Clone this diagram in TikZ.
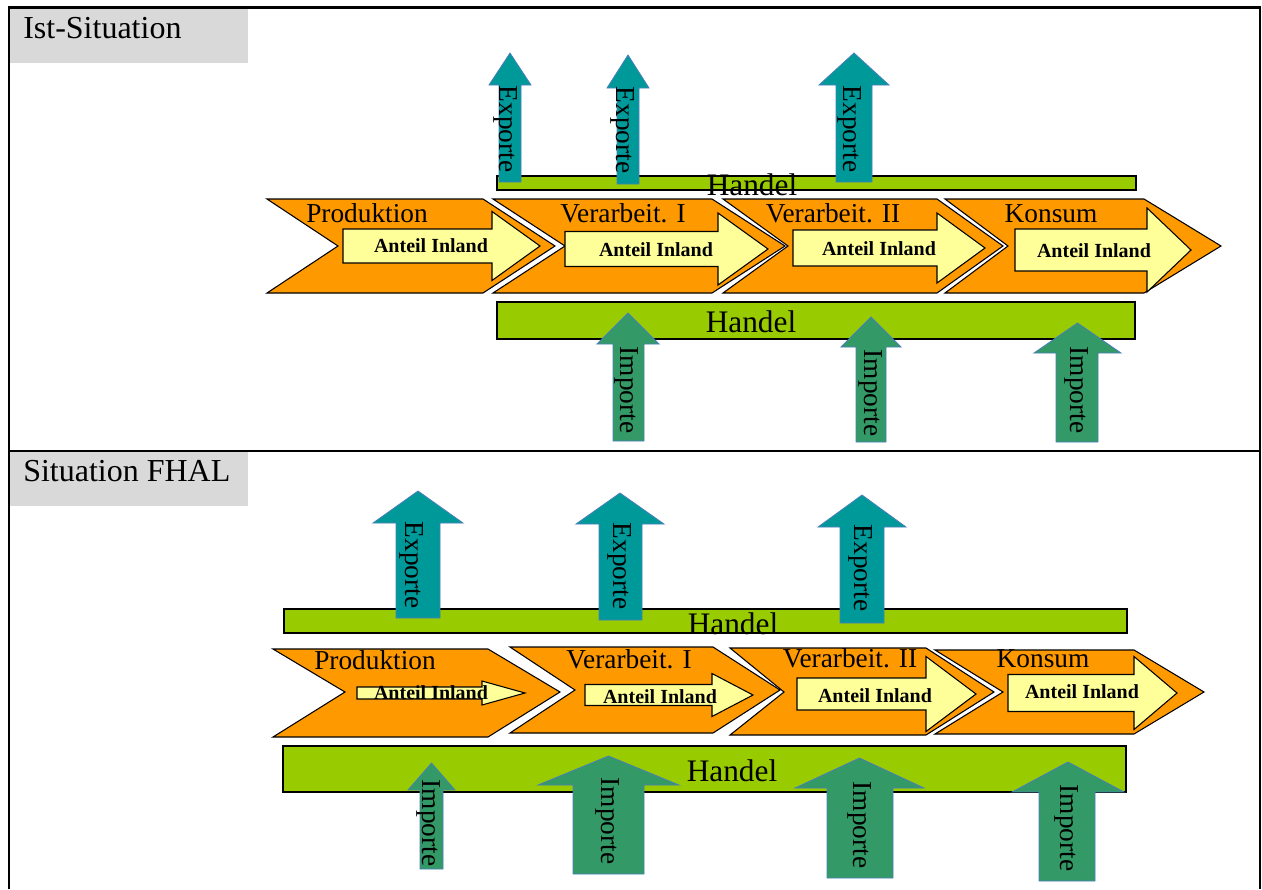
\documentclass[tikz,border=0pt]{standalone}
\usepackage{fontspec}
\setmainfont{Liberation Serif}
\definecolor{orng}{HTML}{FF9900}
\definecolor{ylw}{HTML}{FFFF99}
\definecolor{grn}{HTML}{99CC00}
\definecolor{tealx}{HTML}{009999}
\definecolor{seax}{HTML}{339966}
\definecolor{arrblue}{HTML}{4A7EBB}
\definecolor{lgray}{HTML}{D9D9D9}
\tikzset{
  chev/.style={draw=black, line width=0.8pt, fill=orng, line join=miter},
  inarr/.style={draw=black, line width=0.8pt, fill=ylw, line join=miter},
  bar/.style={draw=black, line width=0.8pt, fill=grn},
  exparr/.style={draw=arrblue, line width=0.6pt, fill=tealx},
  imparr/.style={draw=arrblue, line width=0.6pt, fill=seax},
  vlabel/.style={rotate=-90, font=\fontsize{20.5}{20.5}\selectfont, inner sep=0pt},
  stage/.style={font=\fontsize{20.5}{20.5}\selectfont, anchor=base, inner sep=0pt},
  handel/.style={font=\fontsize{23.5}{23.5}\selectfont, anchor=base, inner sep=0pt},
  anteil/.style={font=\bfseries\fontsize{15}{15}\selectfont, inner sep=0pt},
  sect/.style={font=\fontsize{24}{24}\selectfont, anchor=base west, inner sep=0pt},
  tbl/.style={draw=black, line width=1.8pt},
}
% chevron: L N R T ytop ymid ybot
\newcommand{\Chev}[7]{\draw[chev] (#1,#5) -- (#3,#5) -- (#4,#6) -- (#3,#7) -- (#1,#7) -- (#2,#6) -- cycle;}
% inner arrow: shaftL headbase tip ymid shafthalf headhalf
\newcommand{\InArr}[6]{\draw[inarr] (#1,{#4-#5}) -- (#2,{#4-#5}) -- (#2,{#4-#6}) -- (#3,#4) -- (#2,{#4+#6}) -- (#2,{#4+#5}) -- (#1,{#4+#5}) -- cycle;}
% up arrow: style shaftL shaftR headL headR tipy basey boty
\newcommand{\UpArr}[8]{\draw[#1] (#2,#8) -- (#2,#7) -- (#4,#7) -- ({(#4+#5)/2},#6) -- (#5,#7) -- (#3,#7) -- (#3,#8) -- cycle;}
\begin{document}
\begin{tikzpicture}[x=0.75pt, y=-0.75pt]
\useasboundingbox (0,0) rectangle (1262,889);
% ---------- section labels ----------
\fill[lgray] (9,9) rectangle (248,63);
\node[sect] (lab1) at (23,38) {Ist-Situation};
\fill[lgray] (9,452) rectangle (248,506);
\node[sect] (lab2) at (23,481) {Situation FHAL};
% ================= TOP SECTION =================
\draw[bar] (497,176) rectangle (1136,190);
\UpArr{exparr}{499}{521}{489}{531}{53}{85}{182}
\UpArr{exparr}{617}{639}{607}{649}{55}{88}{184}
\UpArr{exparr}{836}{872}{819}{889}{53}{85}{182}
\node[vlabel] (ex1) at (506,129) {Exporte};
\node[vlabel] (ex2) at (623,130) {Exporte};
\node[vlabel] (ex3) at (850,129) {Exporte};
\node[handel] (h1) at (752,195) {Handel};
% chevrons
\Chev{267}{338}{483}{555}{199}{246}{293}
\Chev{493}{565}{712}{785}{199}{246}{293}
\Chev{723}{788}{937}{1003}{199}{246}{293}
\Chev{945}{1008}{1144}{1221}{199}{246}{293}
\InArr{343}{492}{540}{246}{17}{34.5}
\InArr{565}{718}{768}{249}{17.5}{36}
\InArr{793}{937}{985}{248}{18}{35}
\InArr{1015}{1147}{1191}{250}{21}{42}
\node[stage] (p1) at (367,222) {Produktion};
\node[stage] (v1) at (623,222) {Verarbeit. I};
\node[stage] (w1) at (833,222) {Verarbeit. II};
\node[stage] (k1) at (1051,222) {Konsum};
\node[anteil] (a11) at (431,246) {Anteil Inland};
\node[anteil] (a12) at (656,250) {Anteil Inland};
\node[anteil] (a13) at (879,249) {Anteil Inland};
\node[anteil] (a14) at (1094,251) {Anteil Inland};
% lower bar + imports
\draw[bar] (497,302) rectangle (1135,339);
\node[handel] (h2) at (751,332) {Handel};
\UpArr{imparr}{613}{644}{597}{659}{313}{344}{441}
\UpArr{imparr}{856}{886}{841}{901}{317}{347}{442}
\UpArr{imparr}{1056}{1098}{1034}{1121}{323}{353}{442}
\node[vlabel] (im1) at (627,390) {Importe};
\node[vlabel] (im2) at (871,393) {Importe};
\node[vlabel] (im3) at (1077,390) {Importe};
% ================= BOTTOM SECTION =================
\draw[bar] (284,609) rectangle (1127,633);
\UpArr{exparr}{396}{440}{373}{463}{491}{523}{618}
\UpArr{exparr}{599}{642}{576}{664}{493}{524}{620}
\UpArr{exparr}{840}{884}{818}{906}{495}{527}{623}
\node[vlabel] (ex4) at (412,565) {Exporte};
\node[vlabel] (ex5) at (620,566) {Exporte};
\node[vlabel] (ex6) at (861,568) {Exporte};
\node[handel] (h3) at (733,634) {Handel};
% chevrons
\Chev{273}{345}{488}{560}{649}{692}{737}
\Chev{510}{575}{713}{780}{647}{690}{733}
\Chev{730}{784}{926}{994}{648}{692}{735}
\Chev{935}{1003}{1134}{1204}{650}{692}{734}
\InArr{357}{482}{525}{693}{6}{12}
\InArr{585}{712}{753}{695}{10.5}{21.5}
\InArr{797}{926}{976}{694}{16}{37.5}
\InArr{1008}{1134}{1177}{693}{18.5}{36.5}
\node[stage] (p2) at (375,669) {Produktion};
\node[stage] (v2) at (629,668) {Verarbeit. I};
\node[stage] (w2) at (850,667) {Verarbeit. II};
\node[stage] (k2) at (1043,667) {Konsum};
\node[anteil] (a21) at (431,693) {Anteil Inland};
\node[anteil] (a22) at (660,697) {Anteil Inland};
\node[anteil] (a23) at (875,696) {Anteil Inland};
\node[anteil] (a24) at (1082,692) {Anteil Inland};
% lower bar + imports
\draw[bar] (283,746) rectangle (1126,792);
\node[handel] (h4) at (732,781) {Handel};
\UpArr{imparr}{420}{443}{408}{455}{763}{790}{869}
\UpArr{imparr}{573}{644}{538}{679}{756}{785}{874}
\UpArr{imparr}{827}{893}{795}{924}{758}{788}{878}
\UpArr{imparr}{1039}{1095}{1012}{1124}{762}{792}{881}
\node[vlabel] (im4) at (429,823) {Importe};
\node[vlabel] (im5) at (608,821) {Importe};
\node[vlabel] (im6) at (860,825) {Importe};
\node[vlabel] (im7) at (1067,828) {Importe};
% ---------- table lines ----------
\draw[tbl] (9,889) -- (9,7.5) -- (1260,7.5) -- (1260,889);
\draw[tbl] (9,451) -- (1260,451);
\end{tikzpicture}
\end{document}
